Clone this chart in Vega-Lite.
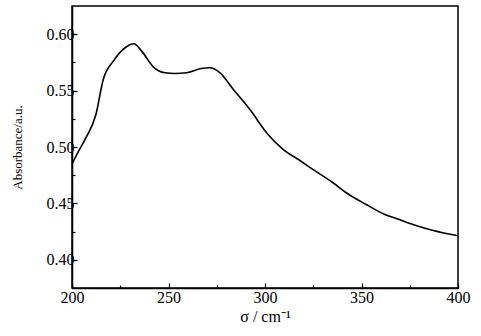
{
  "$schema": "https://vega.github.io/schema/vega-lite/v6.json",
  "width": 386,
  "height": 282,
  "autosize": {"type": "none"},
  "padding": {"left": 72, "top": 6, "right": 23, "bottom": 48},
  "background": "white",
  "config": {
    "view": {"stroke": "black", "strokeWidth": 1.5},
    "font": "Liberation Serif",
    "axis": {
      "domainColor": "black", "domainWidth": 1.5, "tickColor": "black", "tickWidth": 1.2,
      "labelFont": "Liberation Serif", "labelColor": "black", "titleFont": "Liberation Serif",
      "titleColor": "black", "titleFontWeight": "normal", "grid": false, "labelFlush": false
    }
  },
  "data": {"values": [
    {"sigma": 200, "abs": 0.485},
    {"sigma": 203, "abs": 0.495},
    {"sigma": 206.7, "abs": 0.5066},
    {"sigma": 212.4, "abs": 0.5288},
    {"sigma": 216.2, "abs": 0.5599},
    {"sigma": 221.4, "abs": 0.5761},
    {"sigma": 227.5, "abs": 0.588},
    {"sigma": 232.1, "abs": 0.5916},
    {"sigma": 236.1, "abs": 0.585},
    {"sigma": 242.1, "abs": 0.5711},
    {"sigma": 248.2, "abs": 0.5658},
    {"sigma": 253.4, "abs": 0.5652},
    {"sigma": 259.4, "abs": 0.5658},
    {"sigma": 266.3, "abs": 0.5693},
    {"sigma": 271.5, "abs": 0.5702},
    {"sigma": 276.7, "abs": 0.5658},
    {"sigma": 283.6, "abs": 0.551},
    {"sigma": 292.2, "abs": 0.5332},
    {"sigma": 300.9, "abs": 0.5125},
    {"sigma": 309.5, "abs": 0.4977},
    {"sigma": 318.1, "abs": 0.488},
    {"sigma": 325.0, "abs": 0.4799},
    {"sigma": 335.4, "abs": 0.4681},
    {"sigma": 342.3, "abs": 0.4592},
    {"sigma": 352.7, "abs": 0.4488},
    {"sigma": 361.3, "abs": 0.4409},
    {"sigma": 369.9, "abs": 0.4355},
    {"sigma": 378.6, "abs": 0.4302},
    {"sigma": 387.2, "abs": 0.426},
    {"sigma": 400, "abs": 0.4213}
  ]},
  "layer": [
    {
      "mark": {"type": "line", "color": "black", "strokeWidth": 1.6, "interpolate": "monotone"},
      "encoding": {
        "x": {"field": "sigma", "type": "quantitative",
              "scale": {"domain": [200, 400], "nice": false, "zero": false},
              "axis": {"values": [200, 250, 300, 350, 400], "tickSize": -5, "labelPadding": 6,
                       "labelFontSize": 16, "title": "σ / cm⁻¹", "titleFontSize": 16, "titlePadding": 3}},
        "y": {"field": "abs", "type": "quantitative",
              "scale": {"domain": [0.375, 0.625], "nice": false, "zero": false},
              "axis": {"values": [0.4, 0.45, 0.5, 0.55, 0.6], "format": ".2f", "tickSize": -5, "labelPadding": 3,
                       "labelFontSize": 16, "title": "Absorbance/a.u.", "titleFontSize": 13, "titlePadding": 22}}
      }
    },
    {
      "mark": {"type": "line", "opacity": 0},
      "encoding": {
        "x": {"field": "sigma", "type": "quantitative",
              "axis": {"orient": "bottom", "values": [225, 275, 325, 375], "tickSize": -3, "labels": false, "domain": false, "title": null}},
        "y": {"field": "abs", "type": "quantitative",
              "axis": {"orient": "left", "values": [0.425, 0.475, 0.525, 0.575], "tickSize": -3, "labels": false, "domain": false, "title": null}}
      }
    }
  ],
  "resolve": {"axis": {"x": "independent", "y": "independent"}}
}
